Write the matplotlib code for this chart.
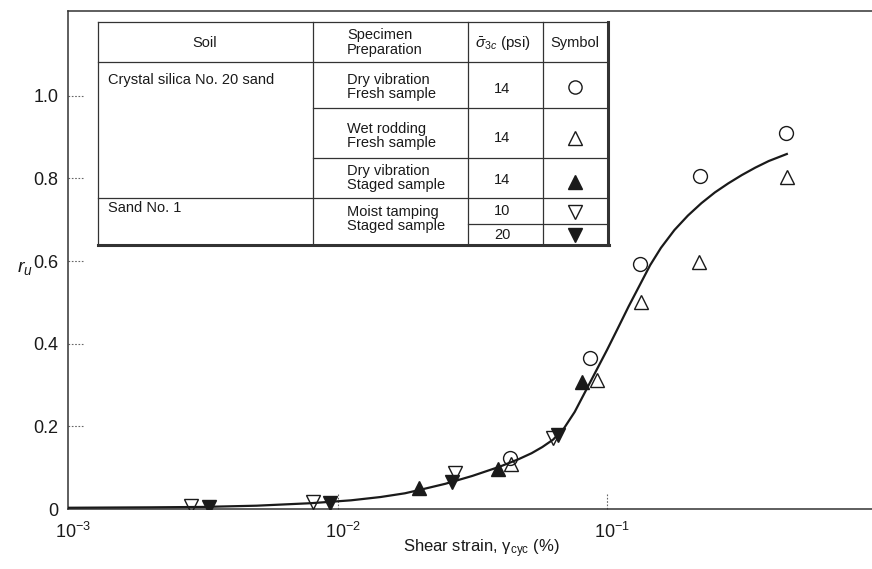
import matplotlib
matplotlib.use("Agg")
import matplotlib.pyplot as plt
from matplotlib.lines import Line2D
from matplotlib.patches import Rectangle
from matplotlib.ticker import NullLocator
from matplotlib.transforms import ScaledTranslation

plt.rcParams["font.family"] = ["Liberation Sans", "DejaVu Sans"]
plt.rcParams["mathtext.fontset"] = "custom"
plt.rcParams["mathtext.rm"] = "Liberation Sans"
plt.rcParams["mathtext.it"] = "Liberation Sans:italic"

# measured points, shear strain (%) vs r_u
circle_x = [0.0437, 0.0864, 0.1324, 0.221, 0.460]
circle_y = [0.123, 0.365, 0.593, 0.805, 0.911]
open_up_x = [0.0441, 0.0916, 0.1336, 0.2198, 0.4645]
open_up_y = [0.108, 0.312, 0.501, 0.597, 0.803]
filled_up_x = [0.0201, 0.0395, 0.0805]
filled_up_y = [0.050, 0.097, 0.307]
open_down_x = [0.00285, 0.00812, 0.0273, 0.0632]
open_down_y = [0.008, 0.016, 0.086, 0.171]
filled_down_x = [0.00334, 0.00938, 0.0267, 0.0659]
filled_down_y = [0.006, 0.015, 0.066, 0.179]

# trend curve
curve_x = [0.001, 0.002, 0.00316, 0.00501, 0.00794, 0.01122, 0.01445, 0.01778,
           0.02042, 0.02512, 0.03162, 0.03981, 0.04677, 0.05248, 0.05754, 0.0631,
           0.06918, 0.07586, 0.08318, 0.0912, 0.1, 0.1096, 0.1202, 0.1318, 0.1445,
           0.1585, 0.1778, 0.1995, 0.2239, 0.2512, 0.2818, 0.3162, 0.3548, 0.3981,
           0.4645]
curve_y = [0.003, 0.004, 0.005, 0.008, 0.014, 0.021, 0.029, 0.038,
           0.047, 0.061, 0.080, 0.102, 0.120, 0.135, 0.150, 0.168,
           0.195, 0.235, 0.285, 0.335, 0.385, 0.437, 0.490, 0.540, 0.590,
           0.632, 0.675, 0.710, 0.740, 0.766, 0.788, 0.808, 0.826, 0.842,
           0.859]

x_ticks = [1e-3, 1e-2, 1e-1]
x_ticklabels = ["$10^{-3}$", "$10^{-2}$", "$10^{-1}$"]
y_ticks = [0, 0.2, 0.4, 0.6, 0.8, 1.0]
y_ticklabels = ["0", "0.2", "0.4", "0.6", "0.8", "1.0"]

# legend table contents
soils = ["Crystal silica No. 20 sand", "Sand No. 1"]
preparations = [["Dry vibration", "Fresh sample"], ["Wet rodding", "Fresh sample"],
                ["Dry vibration", "Staged sample"], ["Moist tamping", "Staged sample"]]
pressures = ["14", "14", "14", "10", "20"]

W, H = 872, 569
ink = "#1a1a1a"

fig = plt.figure(figsize=(W / 100, H / 100), dpi=100)
ax = fig.add_axes([68 / W, 1 - 509 / H, (W - 68) / W, (509 - 11) / H])

ax.plot(curve_x, curve_y, color=ink, lw=1.6, zorder=3, solid_joinstyle="round")
ms = 10.5
ax.plot(circle_x, circle_y, "o", ms=ms - 0.5, mfc="none", mec=ink, mew=1.0, zorder=4)
ax.plot(open_up_x, open_up_y, "^", ms=ms, mfc="none", mec=ink, mew=1.0, zorder=4)
ax.plot(filled_up_x, filled_up_y, "^", ms=ms, color=ink, zorder=4)
ax.plot(open_down_x, open_down_y, "v", ms=ms, mfc="none", mec=ink, mew=1.0, zorder=4)
ax.plot(filled_down_x, filled_down_y, "v", ms=ms, color=ink, zorder=4)

ax.set_xscale("log")
ax.set_xlim(1e-3, 10 ** -0.017)
ax.set_ylim(0, 1.205)
ax.xaxis.set_minor_locator(NullLocator())
ax.set_xticks(x_ticks)
ax.set_xticklabels(x_ticklabels)
ax.set_yticks(y_ticks)
ax.set_yticklabels(y_ticklabels)
ax.tick_params(length=0, labelsize=13, colors=ink)
ax.tick_params(axis="x", pad=9)
ax.tick_params(axis="y", pad=7)
for lab in ax.get_xticklabels():
    lab.set_transform(lab.get_transform() + ScaledTranslation(5 / 100, 0, fig.dpi_scale_trans))

ax.spines["right"].set_visible(False)
for s in ["left", "top", "bottom"]:
    ax.spines[s].set_color("#333333")
    ax.spines[s].set_linewidth(1.1)

# dotted tick stubs
for y in y_ticks[1:]:
    ax.plot([0, 16 / 804], [y, y], transform=ax.get_yaxis_transform(),
            ls=(0, (1.5, 1.5)), color="#666666", lw=0.8, clip_on=False)
for x in x_ticks[1:]:
    ax.plot([x, x], [0, 15 / 498], transform=ax.get_xaxis_transform(),
            ls=(0, (1.5, 1.5)), color="#666666", lw=0.8, clip_on=False)

fig.text(481 / W, 1 - 549 / H, "Shear strain, γ$_{\\rm cyc}$ (%)", ha="center", va="center",
         fontsize=12, color=ink)
fig.text(25 / W, 1 - 268 / H, "$r_u$", ha="center", va="center", fontsize=14, color=ink)


# ---- legend table drawn in pixel coordinates ----
def hline(x0, x1, y, lw=0.9):
    fig.add_artist(Line2D([x0 / W, x1 / W], [1 - y / H, 1 - y / H], transform=fig.transFigure,
                          color="#333333", lw=lw, zorder=6))


def vline(x, y0, y1, lw=0.9):
    fig.add_artist(Line2D([x / W, x / W], [1 - y0 / H, 1 - y1 / H], transform=fig.transFigure,
                          color="#333333", lw=lw, zorder=6))


def put(x, y, s, ha="left", size=10.5):
    fig.text(x / W, 1 - y / H, s, ha=ha, va="center", fontsize=size, color=ink, zorder=7)


L, R, T, B = 98, 608, 22, 245
c1, c2, c3 = 313, 468, 543
fig.add_artist(Rectangle((L / W, 1 - B / H), (R - L) / W, (B - T) / H, transform=fig.transFigure,
                         facecolor="white", edgecolor="none", zorder=5))
hline(L, R, T)
hline(L, R, 62)
hline(c1, R, 108)
hline(c1, R, 158)
hline(L, R, 198)
hline(c2, R, 224)
hline(L - 0.5, R + 1, B, lw=2.2)
vline(L, T, B)
vline(R, T - 0.5, B, lw=2.2)
vline(c1, T, B)
vline(c2, T, B)
vline(c3, T, B)

put(205, 43, "Soil", ha="center")
put(347, 35, "Specimen")
put(347, 50, "Preparation")
put(503, 43, r"$\bar{\sigma}_{3c}$ (psi)", ha="center", size=11)
put(575, 43, "Symbol", ha="center")

put(108, 80, soils[0])
put(108, 208, soils[1])
prep_y = [80, 128.5, 171.5, 212]
for (a, b), y in zip(preparations, prep_y):
    put(347, y, a)
    put(347, y + 14, b)
num_y = [89, 138, 180, 211, 235]
for p, y in zip(pressures, num_y):
    put(502, y, p, ha="center")

sym_y = [87, 138, 182, 212, 235]
sym_style = [dict(marker="o", mfc="none", ms=9.5), dict(marker="^", mfc="none", ms=10),
             dict(marker="^", mfc=ink, ms=10), dict(marker="v", mfc="none", ms=10),
             dict(marker="v", mfc=ink, ms=10)]
for y, st in zip(sym_y, sym_style):
    fig.add_artist(Line2D([575 / W], [1 - y / H], transform=fig.transFigure, ls="none",
                          mec=ink, mew=1.0, zorder=7, **st))

fig.savefig("out.png", dpi=100)
